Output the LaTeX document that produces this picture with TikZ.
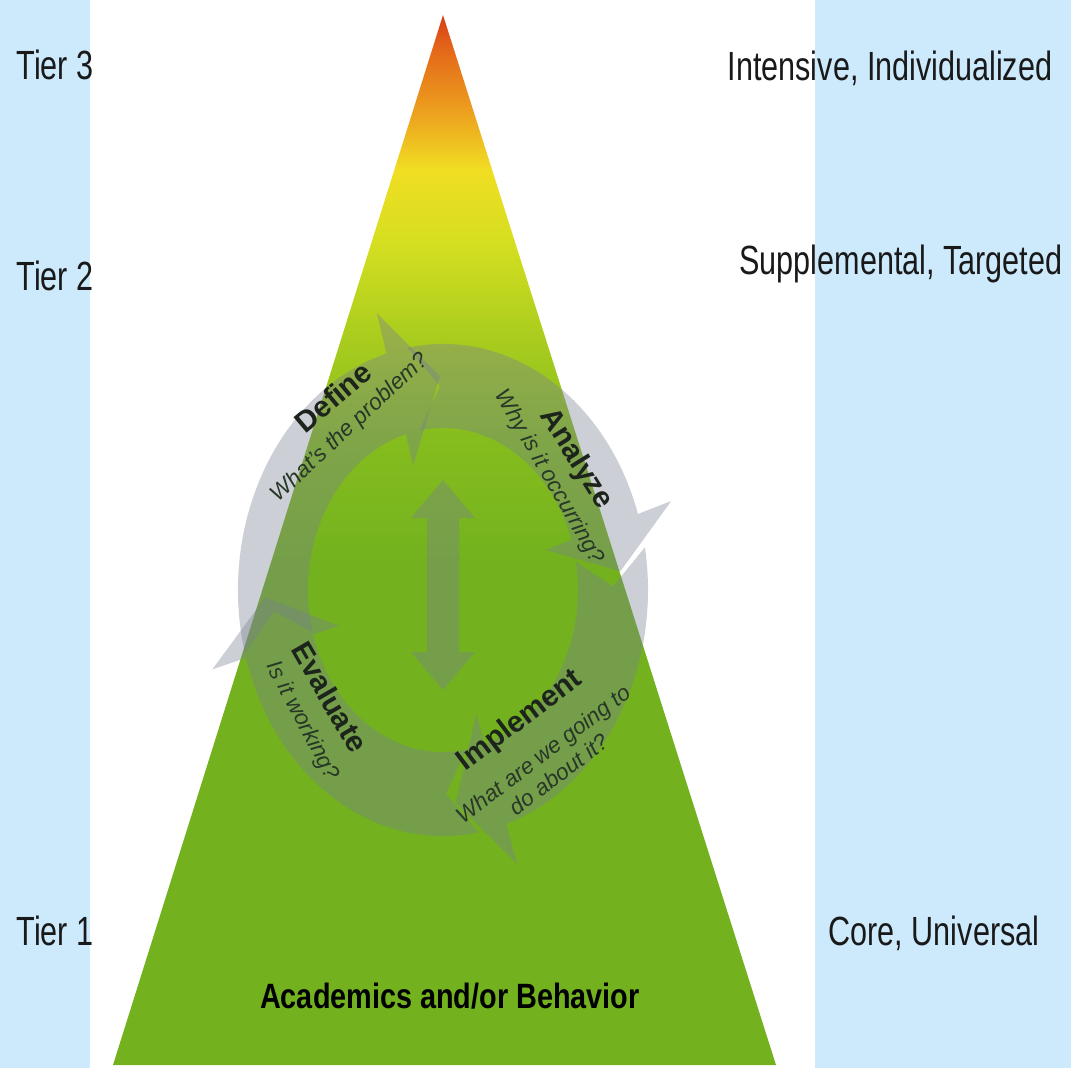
\documentclass[tikz,border=0pt]{standalone}
\usepackage{fontspec}
\setmainfont{Liberation Sans}
\newfontfamily\tierfont{Liberation Sans}[FakeStretch=0.75]
\newfontfamily\basefont{Liberation Sans}[FakeStretch=0.82]
\usetikzlibrary{calc,positioning}
\definecolor{skyblue}{RGB}{204,234,252}
\definecolor{tipred}{RGB}{216,62,22}
\definecolor{tiporange}{RGB}{228,105,25}
\definecolor{midorange}{RGB}{236,158,30}
\definecolor{tieryellow}{RGB}{240,222,35}
\definecolor{limeyellow}{RGB}{212,222,32}
\definecolor{limegreen}{RGB}{172,206,30}
\definecolor{leafgreen}{RGB}{134,189,30}
\definecolor{basegreen}{RGB}{115,178,30}
\definecolor{ringgray}{RGB}{120,128,145}
\definecolor{titlegray}{RGB}{28,36,28}
\definecolor{subgray}{RGB}{40,56,40}
\pgfdeclareverticalshading{tiershade}{100bp}{color(0bp)=(basegreen); color(25bp)=(basegreen); color(49bp)=(basegreen); color(55bp)=(leafgreen); color(60bp)=(limegreen); color(64bp)=(limeyellow); color(67.6bp)=(tieryellow); color(70.5bp)=(midorange); color(73.3bp)=(tiporange); color(75bp)=(tipred); color(100bp)=(tipred)}
% one curved step of the cycle: start angle, head base angle, tip angle
\newcommand{\cyclearrow}[3]{%
  \fill[cyclearrow] (#1:205) arc[start angle=#1, end angle=#2, radius=205]
    -- (#2:240) -- (#3:178) -- (#2:108) -- (#2:135)
    arc[start angle=#2, end angle=#1, radius=135]
    -- ({#1-9}:170) -- cycle;}
\tikzset{
  tier/.style={font=\tierfont\fontsize{29}{33}\selectfont, text=black!90, inner sep=0pt, anchor=base},
  basetext/.style={font=\basefont\bfseries\fontsize{25}{29}\selectfont, inner sep=0pt, anchor=base},
  steptitle/.style={font=\bfseries\fontsize{21}{24}\selectfont, text=titlegray, inner sep=0pt},
  stepsub/.style={font=\itshape\fontsize{16}{18.5}\selectfont, text=subgray, inner sep=0pt, align=center},
  cyclearrow/.style={fill=ringgray, fill opacity=0.38},
}
\begin{document}
\begin{tikzpicture}[x=0.025cm, y=-0.025cm]
  \useasboundingbox (0,0) rectangle (1071,1068);
  \fill[skyblue] (0,0) rectangle (90,1068);
  \fill[skyblue] (815,0) rectangle (1071,1068);

  % pyramid
  \coordinate (apex) at (443,15);
  \coordinate (baseL) at (113,1065);
  \coordinate (baseR) at (776,1065);
  \shade[shading=tiershade] (apex) -- (baseR) -- (baseL) -- cycle;

  % problem solving cycle
  \begin{scope}[shift={(443,590)}, x=0.025cm, y=0.03cm]
    \cyclearrow{195}{106}{91}
    \cyclearrow{100}{18}{5}
    \cyclearrow{10}{-72}{-86}
    \cyclearrow{-80}{-164}{-178}
  \end{scope}
  \fill[cyclearrow] (443,480) -- (475,518) -- (459,518) -- (459,652) -- (475,652)
    -- (443,690) -- (411,652) -- (427,652) -- (427,518) -- (411,518) -- cycle;

  \node[steptitle, rotate=40] (define) at (333,397) {Define};
  \node[stepsub, rotate=43] (definesub) at (350,428) {What's the problem?};
  \node[steptitle, rotate=-58] (analyze) at (576,459) {Analyze};
  \node[stepsub, rotate=-60] (analyzesub) at (549,477) {Why is it occurring?};
  \node[steptitle, rotate=37] (implement) at (520,721) {Implement};
  \node[stepsub, rotate=37] (implementsub) at (551,764) {What are we going to\\do about it?};
  \node[steptitle, rotate=-60] (evaluate) at (330,697) {Evaluate};
  \node[stepsub, rotate=-62] (evaluatesub) at (302,721) {Is it working?};

  % tiers
  \node[tier] (tier3) at (55,79) {Tier 3};
  \node[tier] (tier2) at (55,290) {Tier 2};
  \node[tier] (tier1) at (55,945) {Tier 1};
  \node[tier] (intensive) at (890,80) {Intensive, Individualized};
  \node[tier] (supplemental) at (901,274) {Supplemental, Targeted};
  \node[tier] (core) at (934,945) {Core, Universal};
  \node[basetext] (academics) at (450,1008) {Academics and/or Behavior};
\end{tikzpicture}
\end{document}
